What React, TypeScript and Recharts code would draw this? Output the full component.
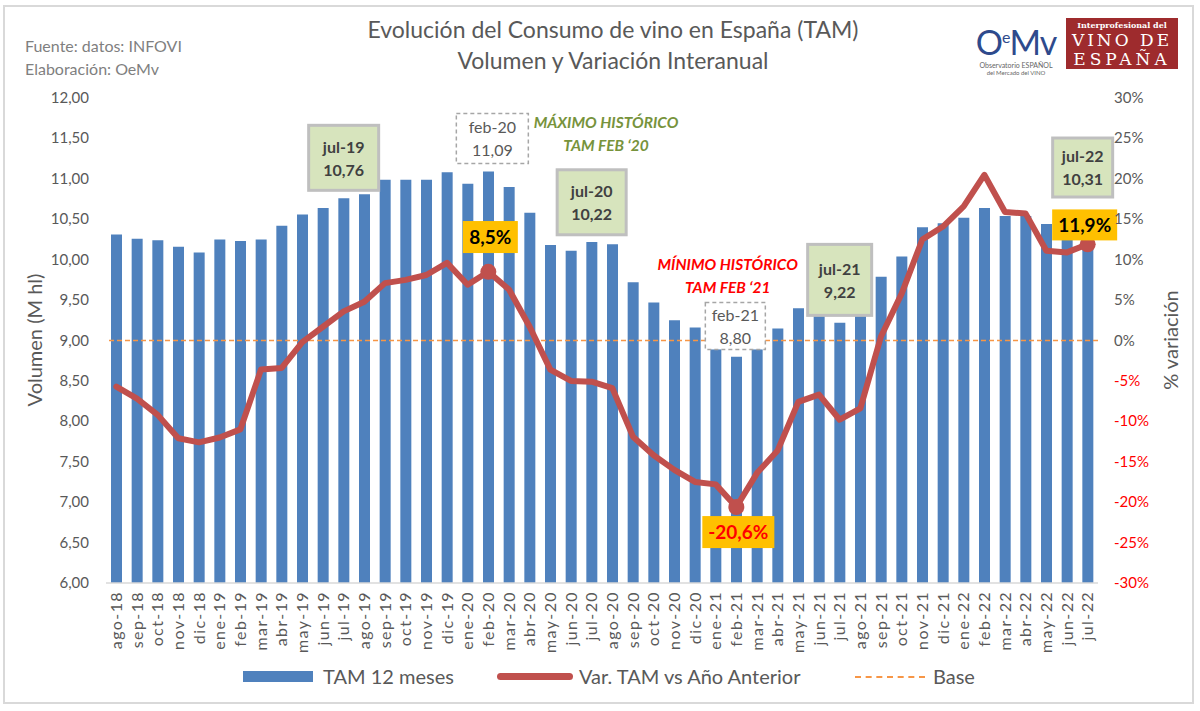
import React from "react";
import { ComposedChart, Bar, Line, XAxis, YAxis, ReferenceDot, ReferenceLine } from "recharts";

// meses del TAM (ago-18 .. jul-22)
const months = [
  "ago-18", "sep-18", "oct-18", "nov-18", "dic-18",
  "ene-19", "feb-19", "mar-19", "abr-19", "may-19", "jun-19", "jul-19", "ago-19", "sep-19", "oct-19", "nov-19", "dic-19",
  "ene-20", "feb-20", "mar-20", "abr-20", "may-20", "jun-20", "jul-20", "ago-20", "sep-20", "oct-20", "nov-20", "dic-20",
  "ene-21", "feb-21", "mar-21", "abr-21", "may-21", "jun-21", "jul-21", "ago-21", "sep-21", "oct-21", "nov-21", "dic-21",
  "ene-22", "feb-22", "mar-22", "abr-22", "may-22", "jun-22", "jul-22",
];

// volumen TAM 12 meses (M hl)
const tamVolume = [
  10.31, 10.26, 10.24, 10.16, 10.09,
  10.25, 10.23, 10.25, 10.42, 10.56, 10.64, 10.76, 10.81, 10.99, 10.99, 10.99, 11.08,
  10.94, 11.09, 10.9, 10.58, 10.18, 10.11, 10.22, 10.19, 9.72, 9.47, 9.25, 9.16,
  8.9, 8.8, 8.9, 9.15, 9.4, 9.42, 9.22, 9.35, 9.79, 10.04, 10.4, 10.45,
  10.52, 10.64, 10.54, 10.54, 10.44, 10.3, 10.31,
];

// variación TAM vs año anterior (%)
const tamVariation = [
  -5.7, -7.2, -9.2, -12.1, -12.6,
  -12.0, -11.0, -3.6, -3.4, -0.2, 1.7, 3.6, 4.8, 7.1, 7.5, 8.1, 9.6,
  6.9, 8.5, 6.3, 1.7, -3.6, -5.0, -5.1, -5.9, -11.9, -14.2, -16.0, -17.5,
  -17.8, -20.6, -16.4, -13.6, -7.6, -6.7, -9.8, -8.4, 0.5, 5.8, 12.5, 14.1,
  16.6, 20.5, 15.9, 15.7, 11.1, 10.9, 11.9,
];

const volumeTicks = [6, 6.5, 7, 7.5, 8, 8.5, 9, 9.5, 10, 10.5, 11, 11.5, 12];
const pctTicks = [-30, -25, -20, -15, -10, -5, 0, 5, 10, 15, 20, 25, 30];
const highlighted = ["feb-20", "feb-21", "jul-22"];

// cajas de anotación (anclas en el eje de volumen)
const notes = [
  { month: "jul-19", at: 11.26, lines: ["jul-19", "10,76"], kind: "green", w: 70, h: 65, dx: 0 },
  { month: "feb-20", at: 11.5, lines: ["feb-20", "11,09"], kind: "dashed", w: 72, h: 50, dx: 4 },
  { month: "jul-20", at: 10.71, lines: ["jul-20", "10,22"], kind: "green", w: 69, h: 65, dx: 0 },
  { month: "feb-21", at: 9.18, lines: ["feb-21", "8,80"], kind: "dashed", w: 60, h: 47, dx: -1 },
  { month: "jul-21", at: 9.75, lines: ["jul-21", "9,22"], kind: "green", w: 64, h: 71, dx: 0 },
  { month: "jul-22", at: 11.14, lines: ["jul-22", "10,31"], kind: "green", w: 60, h: 59, dx: -5 },
  { month: "feb-20", at: 10.28, lines: ["8,5%"], kind: "pct", w: 55, h: 32, dx: 2 },
  { month: "feb-21", at: 6.63, lines: ["-20,6%"], kind: "pctneg", w: 72, h: 32, dx: 2 },
  { month: "jul-22", at: 10.43, lines: ["11,9%"], kind: "pct", w: 65, h: 31, dx: -3 },
  { month: "jun-20", at: 11.54, lines: ["MÁXIMO HISTÓRICO", "TAM FEB \u201820"], kind: "maxText", w: 0, h: 0, dx: 35 },
  { month: "abr-21", at: 9.785, lines: ["MÍNIMO HISTÓRICO", "TAM FEB \u201821"], kind: "minText", w: 0, h: 0, dx: -50 },
];

const data = months.map((m, i) => ({ month: m, tam: tamVolume[i], varPct: tamVariation[i] }));

const FONT = "Lato, 'Open Sans', sans-serif";
const GREY = "#595959";

function NoteBox(props: any) {
  const { viewBox, note } = props;
  if (!viewBox) return null;
  const cx = viewBox.x + viewBox.width / 2 + note.dx;
  const cy = viewBox.y + viewBox.height / 2;
  const { w, h, kind, lines } = note;
  if (kind === "maxText" || kind === "minText") {
    const color = kind === "maxText" ? "#77933C" : "#FF0000";
    return (
      <g>
        {lines.map((t: string, i: number) => (
          <text key={i} x={cx} y={cy - 12 + i * 23 + 5} textAnchor="middle" fill={color}
            fontFamily={FONT} fontSize={15.5} fontWeight={700} fontStyle="italic">{t}</text>
        ))}
      </g>
    );
  }
  let fill = "#D7E4BD", stroke = "#BFBFBF", sw = 3, dash: string | undefined, txt = "#404040", weight = 700, size = 16;
  if (kind === "dashed") { fill = "#FFFFFF"; stroke = "#A6A6A6"; sw = 1.5; dash = "4 3"; txt = GREY; weight = 400; }
  if (kind === "pct" || kind === "pctneg") { fill = "#FFC000"; stroke = "none"; sw = 0; txt = kind === "pct" ? "#000000" : "#FF0000"; size = 19; }
  return (
    <g>
      <rect x={cx - w / 2} y={cy - h / 2} width={w} height={h} fill={fill} stroke={stroke} strokeWidth={sw} strokeDasharray={dash} />
      {lines.map((t: string, i: number) => {
        const off = lines.length === 1 ? 0 : i === 0 ? -11 : 12;
        return (
          <text key={i} x={cx} y={cy + off} dy={size * 0.36} textAnchor="middle" fill={txt}
            fontFamily={FONT} fontSize={size} fontWeight={weight}>{t}</text>
        );
      })}
    </g>
  );
}

function MonthTick(props: any) {
  const { x, y, payload } = props;
  return (
    <g transform={`translate(${x},${y})`}>
      <text transform="rotate(-90)" x={0} y={0} dy={5.5} textAnchor="end" fill={GREY}
        fontFamily={FONT} fontSize={16} letterSpacing={1.4}>{payload.value}</text>
    </g>
  );
}

function VolumeTick(props: any) {
  const { x, y, payload } = props;
  return (
    <text x={x} y={y} dy={5} textAnchor="end" fill={GREY} fontFamily={FONT} fontSize={15}>
      {payload.value.toFixed(2).replace(".", ",")}
    </text>
  );
}

function PctTick(props: any) {
  const { x, y, payload } = props;
  return (
    <text x={x} y={y} dy={5} textAnchor="start" fill={payload.value < 0 ? "#FF0000" : GREY} fontFamily={FONT} fontSize={15}>
      {payload.value + "%"}
    </text>
  );
}

function BigDot(props: any) {
  const { cx, cy, payload, index } = props;
  if (!highlighted.includes(payload.month)) return <g key={index} />;
  return <circle key={index} cx={cx} cy={cy} r={8} fill="#C0504D" />;
}

export default function App() {
  return (
    <div style={{ position: "absolute", left: 0, top: 0, width: 1200, height: 711, background: "#fff", fontFamily: FONT, overflow: "hidden" }}>
      {/* marco */}
      <div style={{ position: "absolute", left: 3, top: 5, width: 1187, height: 695, border: "2px solid #D9D9D9" }} />

      {/* fuente */}
      <div style={{ position: "absolute", left: 25, top: 34, fontSize: 16, color: "#7F7F7F", lineHeight: "23px" }}>
        <div>Fuente: datos: INFOVI</div>
        <div>Elaboración: OeMv</div>
      </div>

      {/* título */}
      <div style={{ position: "absolute", left: 300, width: 626, top: 14, textAlign: "center", fontSize: 23, color: GREY, lineHeight: "31px" }}>
        <div>Evolución del Consumo de vino en España (TAM)</div>
        <div>Volumen y Variación Interanual</div>
      </div>

      {/* logos */}
      <div style={{ position: "absolute", left: 975, top: 18, width: 82, textAlign: "center", color: "#2E4A8C" }}>
        <div style={{ fontSize: 34, lineHeight: "38px", letterSpacing: -1 }}>O<sup style={{ fontSize: 16 }}>e</sup>Mv</div>
        <div style={{ fontSize: 7, lineHeight: "8px", color: "#666" }}>Observatorio ESPAÑOL</div>
        <div style={{ fontSize: 6, lineHeight: "7px", color: "#666" }}>del Mercado del VINO</div>
      </div>
      <div style={{ position: "absolute", left: 1066, top: 18, width: 112, height: 51, background: "#9E2B2D", color: "#fff", textAlign: "center", fontFamily: "'DejaVu Serif', serif" }}>
        <div style={{ fontSize: 8, lineHeight: "11px", marginTop: 2, fontWeight: 700 }}>Interprofesional del</div>
        <div style={{ fontSize: 17, lineHeight: "19px", letterSpacing: 3 }}>VINO DE</div>
        <div style={{ fontSize: 17, lineHeight: "18px", letterSpacing: 4 }}>ESPAÑA</div>
      </div>

      <div style={{ position: "absolute", left: 0, top: 0 }}>
        <ComposedChart width={1200} height={653} data={data} margin={{ top: 98, right: 0, bottom: 0, left: 0 }} barCategoryGap="47%">
          <XAxis dataKey="month" interval={0} height={70} tick={<MonthTick />} tickLine={false}
            axisLine={{ stroke: "#D9D9D9", strokeWidth: 1.5 }} tickMargin={2} />
          <YAxis yAxisId="left" orientation="left" width={106} domain={[6, 12]} ticks={volumeTicks}
            axisLine={false} tickLine={false} tickSize={6} tickMargin={11} tick={<VolumeTick />} />
          <YAxis yAxisId="right" orientation="right" width={102} domain={[-30, 30]} ticks={pctTicks}
            axisLine={false} tickLine={false} tickSize={6} tickMargin={10} tick={<PctTick />} />
          <Bar yAxisId="left" dataKey="tam" fill="#4F81BD" barSize={11} isAnimationActive={false} />
          <ReferenceLine yAxisId="right" y={0} stroke="#F79646" strokeWidth={1.5} strokeDasharray="5 3" />
          <Line yAxisId="right" dataKey="varPct" type="linear" stroke="#C0504D" strokeWidth={6}
            strokeLinejoin="round" strokeLinecap="round" dot={<BigDot />} activeDot={false} isAnimationActive={false} />
          {notes.map((n, i) => (
            <ReferenceDot key={i} yAxisId="left" x={n.month} y={n.at} r={0} fill="none" stroke="none"
              label={<NoteBox note={n} />} />
          ))}
        </ComposedChart>
      </div>

      {/* títulos de ejes */}
      <svg width={1200} height={711} style={{ position: "absolute", left: 0, top: 0, pointerEvents: "none" }}>
        <text transform="translate(42,340) rotate(-90)" textAnchor="middle" fill={GREY} fontFamily={FONT} fontSize={20}>Volumen (M hl)</text>
        <text transform="translate(1178,340) rotate(-90)" textAnchor="middle" fill={GREY} fontFamily={FONT} fontSize={20}>% variación</text>
      </svg>

      {/* leyenda */}
      <div style={{ position: "absolute", top: 663, left: 0, width: 1200, height: 28, fontSize: 20, color: GREY }}>
        <div style={{ position: "absolute", left: 243, top: 8, width: 70, height: 11, background: "#4F81BD" }} />
        <div style={{ position: "absolute", left: 323, top: 0, lineHeight: "26px" }}>TAM 12 meses</div>
        <div style={{ position: "absolute", left: 497, top: 10, width: 76, height: 7, borderRadius: 4, background: "#C0504D" }} />
        <div style={{ position: "absolute", left: 579, top: 0, lineHeight: "26px" }}>Var. TAM vs Año Anterior</div>
        <div style={{ position: "absolute", left: 855, top: 13, width: 70, borderTop: "2px dashed #F79646" }} />
        <div style={{ position: "absolute", left: 933, top: 0, lineHeight: "26px" }}>Base</div>
      </div>
    </div>
  );
}
